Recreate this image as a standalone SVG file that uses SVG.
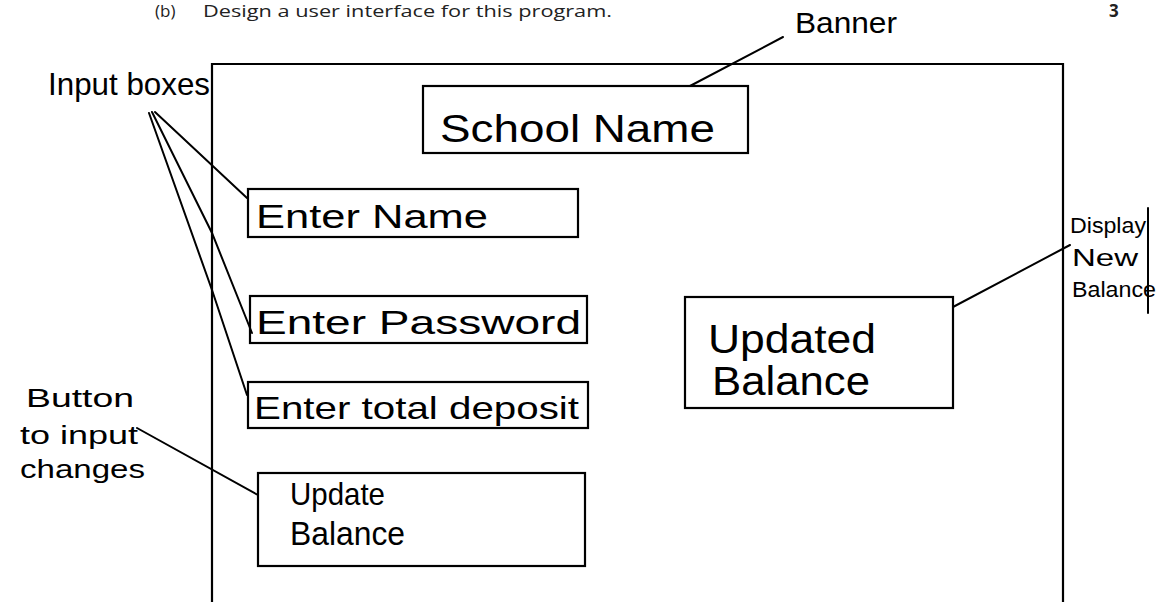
<svg xmlns="http://www.w3.org/2000/svg" width="1164" height="602" viewBox="0 0 1164 602">
<style>
.box{fill:none;stroke:#000;stroke-width:2.2}
.ln{fill:none;stroke:#000;stroke-width:2;stroke-linecap:round}
.hw{font-family:"Liberation Sans","DejaVu Sans",sans-serif;fill:#000;font-weight:normal}
.pr{font-family:"Open Sans","Liberation Sans",sans-serif;fill:#222;font-size:17px}
</style>
<rect width="1164" height="602" fill="#fff"/>
<g id="header">
<text class="pr" x="155" y="17">(b)</text>
<text class="pr" x="203" y="17" textLength="409" lengthAdjust="spacingAndGlyphs">Design a user interface for this program.</text>
<text class="pr" x="1109" y="17" font-weight="bold">3</text>
</g>
<g id="frame">
<path class="box" d="M212,602 V64 H1063 V602"/>
</g>
<g id="banner">
<rect class="box" x="423" y="86" width="325" height="67"/>
<text class="hw" x="440" y="142" font-size="38" textLength="275" lengthAdjust="spacingAndGlyphs">School Name</text>
</g>
<g id="enter-name">
<rect class="box" x="248" y="189" width="330" height="48"/>
<text class="hw" x="256" y="228" font-size="34" textLength="232" lengthAdjust="spacingAndGlyphs">Enter Name</text>
</g>
<g id="enter-password">
<rect class="box" x="250" y="296" width="337" height="47"/>
<text class="hw" x="256" y="334" font-size="34" textLength="325" lengthAdjust="spacingAndGlyphs">Enter Password</text>
</g>
<g id="enter-deposit">
<rect class="box" x="248" y="382" width="340" height="46"/>
<text class="hw" x="254" y="419" font-size="32" textLength="325" lengthAdjust="spacingAndGlyphs">Enter total deposit</text>
</g>
<g id="update-button">
<rect class="box" x="258" y="473" width="327" height="93"/>
<text class="hw" x="290" y="505" font-size="32" textLength="95" lengthAdjust="spacingAndGlyphs">Update</text>
<text class="hw" x="290" y="545" font-size="34" textLength="115" lengthAdjust="spacingAndGlyphs">Balance</text>
</g>
<g id="updated-balance">
<rect class="box" x="685" y="297" width="268" height="111"/>
<text class="hw" x="708" y="353" font-size="40" textLength="168" lengthAdjust="spacingAndGlyphs">Updated</text>
<text class="hw" x="712" y="395" font-size="40" textLength="158" lengthAdjust="spacingAndGlyphs">Balance</text>
</g>
<g id="label-banner">
<text class="hw" x="795" y="33" font-size="30" textLength="102" lengthAdjust="spacingAndGlyphs">Banner</text>
</g>
<g id="label-input-boxes">
<text class="hw" x="48" y="95" font-size="32" textLength="162" lengthAdjust="spacingAndGlyphs">Input boxes</text>
</g>
<g id="label-button">
<text class="hw" x="26" y="407" font-size="26" textLength="108" lengthAdjust="spacingAndGlyphs">Button</text>
<text class="hw" x="20" y="444" font-size="26" textLength="118" lengthAdjust="spacingAndGlyphs">to input</text>
<text class="hw" x="20" y="478" font-size="26" textLength="125" lengthAdjust="spacingAndGlyphs">changes</text>
</g>
<g id="label-display">
<text class="hw" x="1070" y="233" font-size="22" textLength="76" lengthAdjust="spacingAndGlyphs">Display</text>
<text class="hw" x="1072" y="266" font-size="24" textLength="66" lengthAdjust="spacingAndGlyphs">New</text>
<text class="hw" x="1072" y="297" font-size="22" textLength="84" lengthAdjust="spacingAndGlyphs">Balance</text>
<path class="ln" d="M1148,208 V313"/>
</g>
<g id="connectors">
<path class="ln" d="M690,86 L783,37"/>
<path class="ln" d="M155,112 L247,198"/>
<path class="ln" d="M152,112 L212,233 L252,333"/>
<path class="ln" d="M149,113 L212,290 L247,395"/>
<path class="ln" d="M137,428 L258,495"/>
<path class="ln" d="M953,307 L1070,245"/>
</g>
</svg>
